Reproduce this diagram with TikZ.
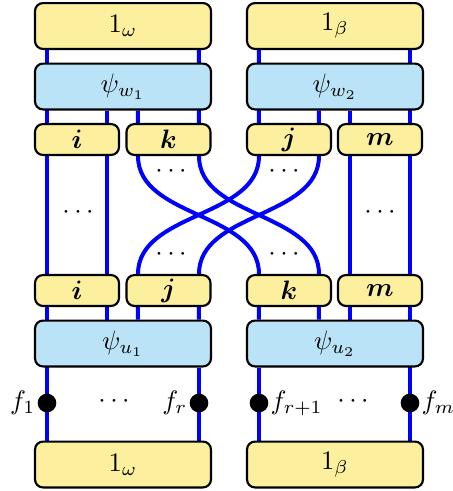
\documentclass[tikz,border=0pt]{standalone}
\usepackage{bm}
\usepackage{tikz}
\usetikzlibrary{backgrounds}
\definecolor{boxyellow}{RGB}{252,240,158}
\definecolor{boxblue}{RGB}{186,227,247}
\newcommand{\lb}[1]{$\bm{#1}$}

\begin{document}
\begin{tikzpicture}[x=0.375pt, y=-0.375pt,
    idem/.style={draw, thick, rounded corners=3pt, fill=boxyellow, inner sep=0pt, minimum width=66pt, minimum height=17.2pt},
    psi/.style={idem, fill=boxblue},
    lab/.style={idem, minimum width=31.5pt, minimum height=11.6pt},
    strand/.style={draw=blue, line width=1.5pt},
    dots/.style={inner sep=0pt},
    fdot/.style={circle, fill=black, inner sep=0pt, minimum size=7pt}]
          \useasboundingbox (0, 0) rectangle (452, 491);
          \coordinate (c1) at (47, 0);
          \coordinate (c2) at (107, 0);
          \coordinate (c3) at (138, 0);
          \coordinate (c4) at (199, 0);
          \coordinate (c5) at (259, 0);
          \coordinate (c6) at (319, 0);
          \coordinate (c7) at (350, 0);
          \coordinate (c8) at (410, 0);

          \node[idem] (Tw) at (123, 26) {$1_\omega$};
          \node[idem] (Tb) at (335, 26) {$1_\beta$};
          \node[psi] (Pw1) at (123, 86.5) {$\psi_{w_1}$};
          \node[psi] (Pw2) at (335, 86.5) {$\psi_{w_2}$};
          \node[lab] (Ti) at (77, 139.5) {\lb{i}};
          \node[lab] (Tk) at (168.5, 139.5) {\lb{k}};
          \node[lab] (Tj) at (289, 139.5) {\lb{j}};
          \node[lab] (Tm) at (380, 139.5) {\lb{m}};

          \node[lab] (Bi) at (77, 290.5) {\lb{i}};
          \node[lab] (Bj) at (168.5, 290.5) {\lb{j}};
          \node[lab] (Bk) at (289, 290.5) {\lb{k}};
          \node[lab] (Bm) at (380, 290.5) {\lb{m}};
          \node[psi] (Pu1) at (123, 343.5) {$\psi_{u_1}$};
          \node[psi] (Pu2) at (335, 343.5) {$\psi_{u_2}$};
          \node[idem] (Ew) at (123, 464.5) {$1_\omega$};
          \node[idem] (Eb) at (335, 464.5) {$1_\beta$};

          \begin{scope}[on background layer]
          \begin{scope}[strand]
            \draw (Tw.south -| c1) -- (Ew.north -| c1);
            \draw (Pw1.south -| c2) -- (Pu1.north -| c2);
            \draw (Pw1.south -| c3) -- (Tk.south -| c3) .. controls +(0, 62) and +(0, -62) .. (Bk.north -| c5) -- (Pu2.north -| c5);
            \draw (Tw.south -| c4) -- (Tk.south -| c4) .. controls +(0, 62) and +(0, -62) .. (Bk.north -| c6) -- (Pu2.north -| c6);
            \draw (Tb.south -| c5) -- (Tj.south -| c5) .. controls +(0, 62) and +(0, -62) .. (Bj.north -| c3) -- (Pu1.north -| c3);
            \draw (Pw2.south -| c6) -- (Tj.south -| c6) .. controls +(0, 62) and +(0, -62) .. (Bj.north -| c4) -- (Pu1.north -| c4);
            \draw (Pw2.south -| c7) -- (Pu2.north -| c7);
            \draw (Tb.south -| c8) -- (Eb.north -| c8);
            \draw (Pu1.south -| c4) -- (Ew.north -| c4);
            \draw (Pu2.south -| c5) -- (Eb.north -| c5);
          \end{scope}
          \end{scope}

          \node[dots] (d1) at (171, 172) {$\cdots$};
          \node[dots] (d2) at (284, 172) {$\cdots$};
          \node[dots] (d3) at (78, 213) {$\cdots$};
          \node[dots] (d4) at (380, 213) {$\cdots$};
          \node[dots] (d5) at (171, 255) {$\cdots$};
          \node[dots] (d6) at (284, 255) {$\cdots$};
          \node[dots] (d7) at (114, 402) {$\cdots$};
          \node[dots] (d8) at (353, 402) {$\cdots$};

          \node[fdot, label={[inner sep=0.5pt]left:$f_1$}] (f1) at (47, 403) {};
          \node[fdot, label={[inner sep=0.5pt]left:$f_r$}] (fr) at (199, 403) {};
          \node[fdot, label={[inner sep=0.5pt]right:$f_{r+1}$}] (fr1) at (259, 403) {};
          \node[fdot, label={[inner sep=0.5pt]right:$f_m$}] (fm) at (410, 403) {};
        \end{tikzpicture}
\end{document}
